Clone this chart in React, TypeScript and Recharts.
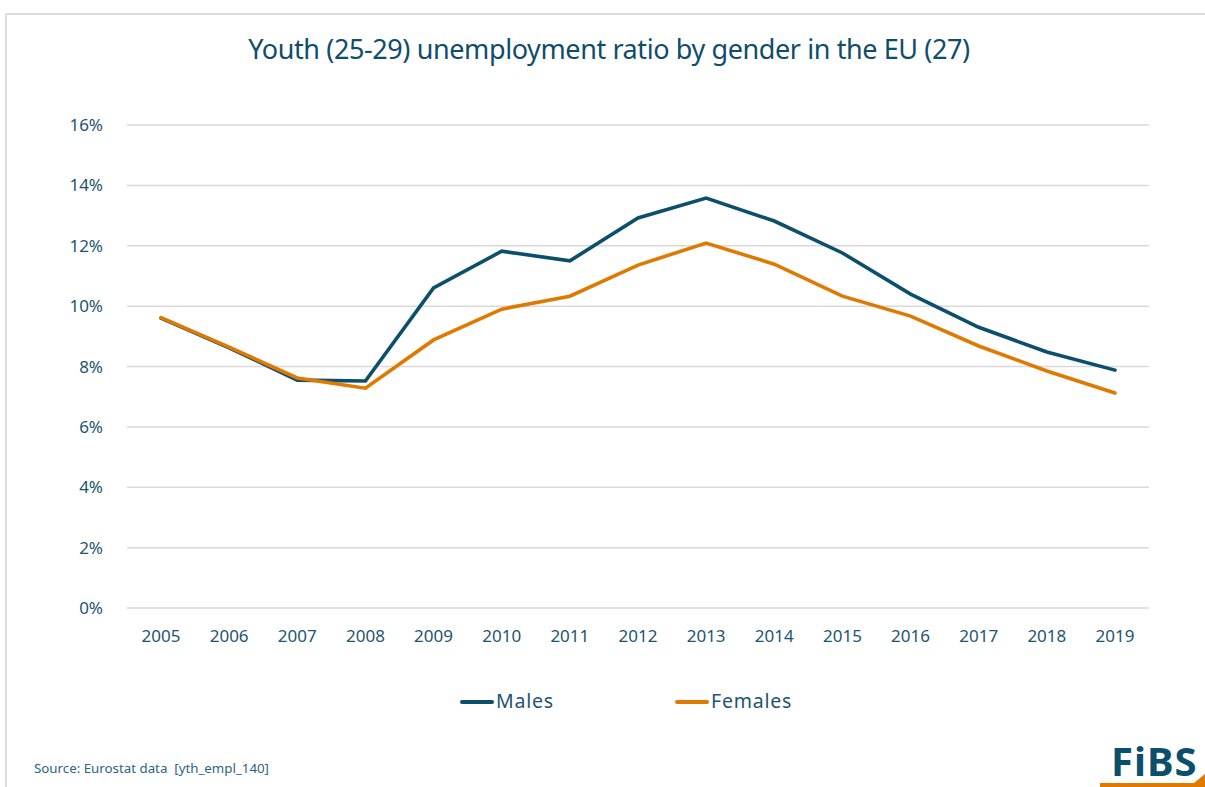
import React from "react";
import { LineChart, Line, XAxis, YAxis, CartesianGrid, Legend } from "recharts";

const years = ["2005","2006","2007","2008","2009","2010","2011","2012","2013","2014","2015","2016","2017","2018","2019"];
const males = [9.6, 8.62, 7.55, 7.52, 10.6, 11.82, 11.5, 12.92, 13.58, 12.82, 11.76, 10.4, 9.3, 8.48, 7.88];
const females = [9.62, 8.64, 7.62, 7.28, 8.88, 9.9, 10.33, 11.36, 12.09, 11.39, 10.33, 9.67, 8.68, 7.85, 7.12];
const yTicks = [0, 2, 4, 6, 8, 10, 12, 14, 16];

const MALE = "#0b4f6c";
const FEMALE = "#e07900";
const TEXT = "#1e5470";
const FONT = "'Noto Sans', sans-serif";

const data = years.map((y, i) => ({ year: y, Males: males[i], Females: females[i] }));

const LegendContent = () => (
  <div style={{ height: 30, position: "relative", fontFamily: FONT, fontSize: 19.5, color: TEXT, letterSpacing: 0.8 }}>
    <div style={{ position: "absolute", left: 460, top: 14, width: 34, height: 4, background: MALE, borderRadius: 2 }} />
    <div style={{ position: "absolute", left: 496, top: 0, lineHeight: "30px" }}>Males</div>
    <div style={{ position: "absolute", left: 675, top: 14, width: 34, height: 4, background: FEMALE, borderRadius: 2 }} />
    <div style={{ position: "absolute", left: 711, top: 0, lineHeight: "30px" }}>Females</div>
  </div>
);

export default function App() {
  return (
    <div style={{ position: "absolute", left: 0, top: 0, width: 1205, height: 787, background: "#fff", overflow: "hidden" }}>
      <div style={{ position: "absolute", left: 5, top: 13, width: 1210, height: 790, border: "2px solid #dcdcdc", boxSizing: "border-box" }} />
      <div style={{ position: "absolute", left: 0, top: 30, width: 1218, textAlign: "center", fontFamily: FONT, fontSize: 27, color: "#0f4d6b", letterSpacing: -0.4 }}>
        Youth (25-29) unemployment ratio by gender in the EU (27)
      </div>
      <div style={{ position: "absolute", left: 0, top: 0 }}>
        <LineChart width={1205} height={787} data={data} margin={{ top: 125, right: 56, left: 0, bottom: 109 }}>
          <CartesianGrid vertical={false} stroke="#d9d9d9" strokeWidth={1.5} />
          <XAxis
            dataKey="year"
            axisLine={false}
            tickLine={false}
            height={40}
            padding={{ left: 34, right: 34 }}
            tick={{ fill: TEXT, fontSize: 17, fontFamily: FONT }}
            tickMargin={16}
            interval={0}
          />
          <YAxis
            domain={[0, 16]}
            ticks={yTicks}
            axisLine={false}
            tickLine={false}
            width={127}
            tick={{ fill: TEXT, fontSize: 17, fontFamily: FONT }}
            tickMargin={18}
            tickFormatter={(v) => `${v}%`}
          />
          <Legend verticalAlign="bottom" content={LegendContent} wrapperStyle={{ top: 686, left: 0, width: 1205 }} />
          <Line type="linear" dataKey="Males" stroke={MALE} strokeWidth={3.6} dot={false} isAnimationActive={false} strokeLinecap="round" />
          <Line type="linear" dataKey="Females" stroke={FEMALE} strokeWidth={3.6} dot={false} isAnimationActive={false} strokeLinecap="round" />
        </LineChart>
      </div>
      <div style={{ position: "absolute", left: 34, top: 759, fontFamily: FONT, fontSize: 13.3, color: "#2a6585" }}>
        Source: Eurostat data&nbsp;&nbsp;[yth_empl_140]
      </div>
      <div style={{ position: "absolute", left: 1111, top: 733, fontFamily: FONT, fontWeight: 700, fontSize: 40, color: "#0b4f6c", letterSpacing: 1 }}>
        FiBS
      </div>
      <svg style={{ position: "absolute", left: 1090, top: 774 }} width={115} height={13}>
        <polygon points="10,13 10,9 104,9 115,0 115,13" fill="#e07900" />
      </svg>
    </div>
  );
}
